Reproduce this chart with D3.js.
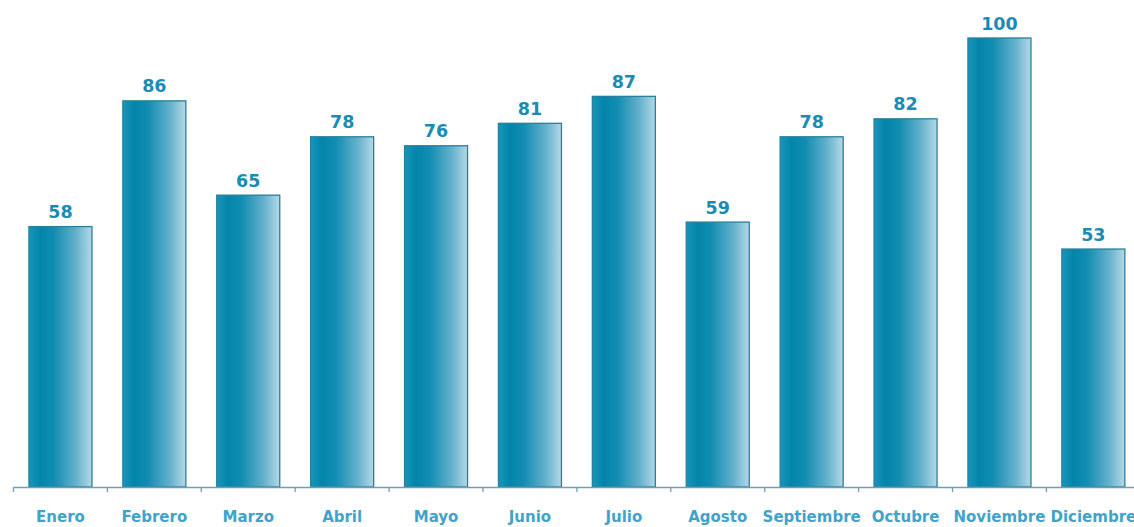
<!DOCTYPE html>
<html><head><meta charset="utf-8">
<script src="https://cdn.jsdelivr.net/npm/d3@7"></script>
<style>body{margin:0;background:#fff;}svg{display:block;}</style>
</head><body>
<script>
const months = ["Enero","Febrero","Marzo","Abril","Mayo","Junio","Julio","Agosto","Septiembre","Octubre","Noviembre","Diciembre"];
const values = [58,86,65,78,76,81,87,59,78,82,100,53];

const W = 1134, H = 527;
const svg = d3.select("body").append("svg").attr("width", W).attr("height", H);

const STEP = 93.9, X0 = 13.5;
const x = d3.scaleBand().domain(months).range([X0, X0 + 12 * STEP]).paddingInner(0.329).paddingOuter(0.1645);
const y = d3.scaleLinear().domain([0, 100]).range([487, 38]);

const defs = svg.append("defs");
const g = defs.append("linearGradient").attr("id", "bg").attr("x1", "0%").attr("x2", "100%").attr("y1", "0%").attr("y2", "0%");
[["0%", "#1896ba"], ["18%", "#0385aa"], ["40%", "#138db2"], ["75%", "#65b1cc"], ["100%", "#b3d9e7"]]
  .forEach(([o, c]) => g.append("stop").attr("offset", o).attr("stop-color", c));

svg.append("g").selectAll("rect").data(months).join("rect")
  .attr("x", d => x(d))
  .attr("y", (d, i) => y(values[i]))
  .attr("width", x.bandwidth())
  .attr("height", (d, i) => y(0) - y(values[i]))
  .attr("fill", "url(#bg)")
  .attr("stroke", "#2a7f9b")
  .attr("stroke-width", 1.3);

// axis
const axis = svg.append("g");
axis.append("line").attr("x1", X0).attr("x2", W).attr("y1", 487.5).attr("y2", 487.5)
  .attr("stroke", "#6f9fb5").attr("stroke-width", 1.3);
axis.selectAll("line.tick").data(d3.range(13)).join("line").attr("class", "tick")
  .attr("x1", i => X0 + i * STEP).attr("x2", i => X0 + i * STEP)
  .attr("y1", 487).attr("y2", 492).attr("stroke", "#6f9fb5").attr("stroke-width", 1.3);

axis.selectAll("text").data(months).join("text")
  .attr("x", d => x(d) + x.bandwidth() / 2)
  .attr("y", 522)
  .attr("text-anchor", "middle")
  .attr("font-family", "DejaVu Sans, sans-serif")
  .attr("font-weight", "bold")
  .attr("font-size", 15)
  .attr("fill", "#3fa3cb")
  .text(d => d);

svg.append("g").selectAll("text").data(months).join("text")
  .attr("x", d => x(d) + x.bandwidth() / 2)
  .attr("y", (d, i) => y(values[i]) - 8.5)
  .attr("text-anchor", "middle")
  .attr("font-family", "DejaVu Sans, sans-serif")
  .attr("font-weight", "bold")
  .attr("font-size", 17.5)
  .attr("fill", "#1a8bb3")
  .text((d, i) => values[i]);
</script>
</body></html>
